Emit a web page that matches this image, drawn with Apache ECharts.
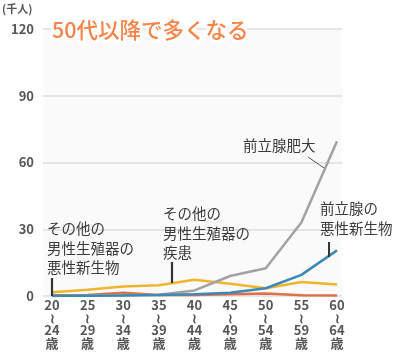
<!DOCTYPE html>
<html><head><meta charset="utf-8">
<script src="https://cdn.jsdelivr.net/npm/echarts@6/dist/echarts.min.js"></script>
<style>html,body{margin:0;padding:0;background:#fff}#c{width:403px;height:360px}</style>
</head><body><div id="c"></div>
<script>
const categories = ['20\n≀\n24\n歳','25\n≀\n29\n歳','30\n≀\n34\n歳','35\n≀\n39\n歳','40\n≀\n44\n歳','45\n≀\n49\n歳','50\n≀\n54\n歳','55\n≀\n59\n歳','60\n≀\n64\n歳'];
const prostateHyperplasia = [0, 0.2, 0.5, 0.6, 2.5, 9, 12.5, 33, 69.5];
const prostateCancer = [0, 0.1, 0.2, 0.4, 0.8, 1.5, 3.5, 9.5, 20.5];
const otherGenitalDisease = [1.7, 2.8, 4.3, 4.8, 7.3, 5.5, 3.5, 6.3, 5.2];
const otherGenitalCancer = [0.3, 0.5, 1.5, 0.5, 0.5, 0.8, 1.1, 0.3, 0.2];
const yTicks = [0, 30, 60, 90, 120];

const FONT = '"Noto Sans CJK JP", "Noto Sans", sans-serif';
const chart = echarts.init(document.getElementById('c'), null, {renderer:'canvas'});
const TOP = 29, BOTTOM = 64;
const annColor = '#3a3a3a';
function txt(x, y, s, extra) {
  return Object.assign({type:'text', x:x, y:y, z:50, style:{text:s, fill:annColor, font:'14.5px ' + FONT, lineHeight:19.5}}, extra||{});
}
function ln(x1,y1,x2,y2,w,c){return {type:'line', z:50, shape:{x1:x1,y1:y1,x2:x2,y2:y2}, style:{stroke:c||'#333', lineWidth:w||2}};}
chart.setOption({
  animation:false,
  grid:[
    {left:43, right:61, top:TOP, bottom:BOTTOM, show:true, backgroundColor:'#fafafa', borderWidth:0},
    {left:52, right:66, top:TOP, bottom:BOTTOM}
  ],
  xAxis:[
    {gridIndex:0, type:'value', min:0, max:1, show:false},
    {gridIndex:1, type:'category', data:categories, boundaryGap:false,
     axisLine:{show:false}, axisTick:{show:false},
     axisLabel:{interval:0, margin:3, color:'#555', fontSize:13, fontWeight:'bold', lineHeight:12.5, fontFamily:FONT}}
  ],
  yAxis:[
    {gridIndex:0, type:'value', min:0, max:120, interval:30,
     axisLine:{show:false}, axisTick:{show:false},
     axisLabel:{margin:9, color:'#555', fontSize:13, fontWeight:'bold', fontFamily:FONT,
       formatter:function(v){return yTicks.indexOf(v)>=0 ? String(v) : '';}},
     splitLine:{lineStyle:{color:'#dcdcdc', width:1.5}}},
    {gridIndex:1, type:'value', min:0, max:120, interval:30, show:false, splitLine:{show:false}}
  ],
  series:[
    {name:'その他の男性生殖器の悪性新生物', type:'line', xAxisIndex:1, yAxisIndex:1, data:otherGenitalCancer, symbol:'none', lineStyle:{color:'#df6f45', width:2.5}, z:2},
    {name:'その他の男性生殖器の疾患', type:'line', xAxisIndex:1, yAxisIndex:1, data:otherGenitalDisease, symbol:'none', lineStyle:{color:'#f0b52e', width:2.5}, z:3},
    {name:'前立腺肥大', type:'line', xAxisIndex:1, yAxisIndex:1, data:prostateHyperplasia, symbol:'none', lineStyle:{color:'#a2a2a2', width:2.5}, z:4},
    {name:'前立腺の悪性新生物', type:'line', xAxisIndex:1, yAxisIndex:1, data:prostateCancer, symbol:'none', lineStyle:{color:'#3c88b6', width:2.5}, z:5}
  ],
  graphic:[
    {type:'text', left:2, top:3, style:{text:'(千人)', fill:'#555', font:'bold 11px ' + FONT}},
    {type:'text', x:52, y:19, z:60, style:{text:'50代以降で多くなる', fill:'#f5844a', font:'500 21.5px ' + FONT, stroke:'#fff', lineWidth:6, shadowColor:'rgba(0,0,0,0.12)', shadowBlur:6}},
    txt(243, 136, '前立腺肥大'),
    ln(308, 157, 324, 168, 1, '#555'),
    txt(320, 199, '前立腺の\n悪性新生物'),
    ln(329, 242, 329, 257, 2),
    txt(163, 204, 'その他の\n男性生殖器の\n疾患'),
    ln(172, 262, 172, 283, 2.2),
    txt(47, 219, 'その他の\n男性生殖器の\n悪性新生物'),
    ln(52, 278, 52, 296, 2.2)
  ]
});
</script></body></html>
